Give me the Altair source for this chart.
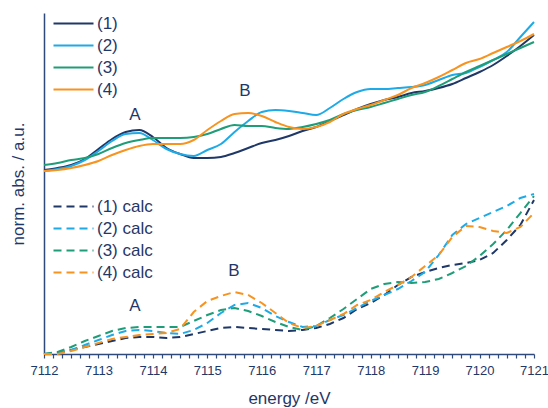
import altair as alt
import pandas as pd

# Energy grid (eV) shared by all spectra
energy = [7112.0, 7112.25, 7112.5, 7112.75, 7113.0, 7113.25, 7113.5, 7113.75,
          7114.0, 7114.25, 7114.5, 7114.75, 7115.0, 7115.25, 7115.5, 7115.75,
          7116.0, 7116.25, 7116.5, 7116.75, 7117.0, 7117.25, 7117.5, 7117.75,
          7118.0, 7118.25, 7118.5, 7118.75, 7119.0, 7119.25, 7119.5, 7119.75,
          7120.0, 7120.25, 7120.5, 7120.75, 7121.0]

# Measured spectra (offset upward)
exp_1 = [1.84, 1.86, 1.89, 1.95, 2.05, 2.15, 2.22, 2.24, 2.17, 2.06, 2.00, 1.96, 1.96,
         1.97, 2.01, 2.06, 2.11, 2.14, 2.18, 2.23, 2.27, 2.33, 2.39, 2.45, 2.50, 2.54,
         2.57, 2.61, 2.63, 2.66, 2.70, 2.76, 2.82, 2.89, 2.98, 3.08, 3.19]
exp_2 = [1.83, 1.85, 1.88, 1.94, 2.03, 2.13, 2.20, 2.21, 2.14, 2.05, 2.00, 1.98, 2.04,
         2.10, 2.22, 2.33, 2.42, 2.44, 2.43, 2.41, 2.39, 2.46, 2.55, 2.62, 2.65, 2.65,
         2.66, 2.67, 2.69, 2.74, 2.79, 2.81, 2.87, 2.94, 3.02, 3.17, 3.32]
exp_3 = [1.89, 1.91, 1.94, 1.96, 2.00, 2.06, 2.11, 2.14, 2.16, 2.16, 2.16, 2.17, 2.20,
         2.25, 2.29, 2.28, 2.28, 2.26, 2.25, 2.27, 2.30, 2.34, 2.40, 2.44, 2.47, 2.51,
         2.55, 2.59, 2.62, 2.68, 2.75, 2.82, 2.88, 2.94, 3.00, 3.06, 3.12]
exp_4 = [1.83, 1.84, 1.86, 1.89, 1.93, 1.99, 2.04, 2.08, 2.10, 2.10, 2.10, 2.14, 2.24,
         2.33, 2.40, 2.41, 2.38, 2.32, 2.27, 2.25, 2.27, 2.32, 2.40, 2.45, 2.49, 2.54,
         2.59, 2.66, 2.71, 2.77, 2.84, 2.91, 2.95, 3.01, 3.07, 3.13, 3.20]

# Calculated spectra
calc_1 = [0.00, 0.01, 0.04, 0.07, 0.10, 0.13, 0.16, 0.17, 0.17, 0.16, 0.17, 0.20, 0.23,
          0.26, 0.27, 0.26, 0.25, 0.24, 0.23, 0.24, 0.26, 0.30, 0.36, 0.45, 0.51, 0.59,
          0.69, 0.77, 0.82, 0.86, 0.89, 0.91, 0.94, 1.01, 1.14, 1.29, 1.54]
calc_2 = [0.00, 0.01, 0.04, 0.09, 0.14, 0.19, 0.23, 0.24, 0.23, 0.21, 0.20, 0.24, 0.31,
          0.41, 0.49, 0.51, 0.46, 0.38, 0.32, 0.27, 0.28, 0.34, 0.39, 0.46, 0.53, 0.59,
          0.65, 0.73, 0.82, 0.99, 1.19, 1.30, 1.36, 1.42, 1.48, 1.56, 1.60]
calc_3 = [0.00, 0.02, 0.07, 0.13, 0.18, 0.23, 0.26, 0.27, 0.27, 0.27, 0.27, 0.33, 0.39,
          0.44, 0.46, 0.43, 0.38, 0.32, 0.27, 0.24, 0.28, 0.36, 0.45, 0.55, 0.65, 0.70,
          0.72, 0.71, 0.72, 0.75, 0.81, 0.88, 0.98, 1.10, 1.24, 1.41, 1.58]
calc_4 = [0.00, 0.00, 0.03, 0.07, 0.11, 0.15, 0.17, 0.19, 0.20, 0.21, 0.25, 0.42, 0.53,
          0.58, 0.62, 0.59, 0.51, 0.41, 0.31, 0.26, 0.28, 0.34, 0.40, 0.49, 0.54, 0.62,
          0.69, 0.77, 0.88, 0.99, 1.17, 1.28, 1.27, 1.23, 1.21, 1.27, 1.41]

exp_labels = ["(1)", "(2)", "(3)", "(4)"]
calc_labels = ["(1) calc", "(2) calc", "(3) calc", "(4) calc"]
colors = ["#1f3868", "#1eaae6", "#1f9d77", "#f7931e"]

# Feature labels A / B on both sets of spectra
feat_text = ["A", "B", "A", "B"]
feat_energy = [7113.67, 7115.69, 7113.67, 7115.49]
feat_value = [2.39, 2.63, 0.48, 0.83]

navy = "#1f3868"
axis_col = "#2f4a7a"
font = "Liberation Sans"


def long_table(labels, series):
    rows = []
    for order, (lab, ys) in enumerate(zip(labels, series)):
        for e, v in zip(energy, ys):
            rows.append({"energy": e, "absorbance": v, "series": lab, "order": order})
    return pd.DataFrame(rows)


exp_df = long_table(exp_labels, [exp_1, exp_2, exp_3, exp_4])
calc_df = long_table(calc_labels, [calc_1, calc_2, calc_3, calc_4])
feat_df = pd.DataFrame({"energy": feat_energy, "absorbance": feat_value, "label": feat_text})

# minor ticks every 1/6 eV, labels on whole eV only
tick_vals = [7112 + k / 6 for k in range(55)]

x_enc = alt.X(
    "energy:Q",
    scale=alt.Scale(domain=[7112, 7121], nice=False, zero=False),
    axis=alt.Axis(
        values=tick_vals, tickCount=200,
        labelExpr="abs(datum.value - round(datum.value)) < 0.01 ? '' + round(datum.value) : ''",
        tickSize=4, tickWidth=1.2, tickColor=axis_col,
        domainColor=axis_col, domainWidth=1.5,
        labelFontSize=13, labelColor=navy, labelFont=font, labelPadding=6,
        labelOverlap=False, labelFlush=False, labelBound=False,
        title="energy /eV", titleFontSize=17, titleFontWeight="normal",
        titleColor=navy, titleFont=font, titlePadding=13, grid=False,
    ),
)
y_enc = alt.Y(
    "absorbance:Q",
    scale=alt.Scale(domain=[0, 3.41], nice=False, zero=False),
    axis=alt.Axis(
        ticks=False, labels=False, grid=False,
        domainColor=axis_col, domainWidth=1.5,
        title="norm. abs. / a.u.", titleFontSize=17, titleFontWeight="normal",
        titleColor=navy, titleFont=font, titlePadding=17,
    ),
)

# A long flat path drawn with a small nominal symbol size keeps the legend rows
# tight while still giving a 40px line sample ending just before the label.
LINE_SAMPLE = "M-7,0H1"


def legend(y0, dash=None):
    opts = dict(
        orient="none", legendX=36, legendY=y0, title=None,
        symbolType=LINE_SAMPLE, symbolSize=100, symbolStrokeWidth=2,
        symbolFillColor="transparent",
        labelFontSize=17, labelColor=navy, labelFont=font, labelOffset=0,
        rowPadding=4,
    )
    if dash:
        opts["symbolDash"] = dash
    return alt.Legend(**opts)


exp_lines = alt.Chart(exp_df).mark_line(strokeWidth=2, interpolate="monotone").encode(
    x=x_enc,
    y=y_enc,
    order="order:O",
    color=alt.Color("series:N", scale=alt.Scale(domain=exp_labels, range=colors),
                    legend=legend(2)),
)

calc_lines = alt.Chart(calc_df).mark_line(strokeWidth=2, strokeDash=[8, 5]).encode(
    x="energy:Q",
    y="absorbance:Q",
    order="order:O",
    color=alt.Color("series:N", scale=alt.Scale(domain=calc_labels, range=colors),
                    legend=legend(185, [8, 5])),
)

features = alt.Chart(feat_df).mark_text(fontSize=17, color=navy, font=font).encode(
    x="energy:Q", y="absorbance:Q", text="label:N"
)

chart = (
    alt.layer(exp_lines, calc_lines, features)
    .resolve_scale(color="independent")
    .properties(
        width=490, height=341,
        autosize=alt.AutoSizeParams(type="none"),
        padding={"left": 44, "top": 13, "right": 14, "bottom": 54},
        background="white",
    )
    .configure_view(stroke=None)
)

chart.save("out.html", embed_options={"renderer": "svg", "actions": False})
